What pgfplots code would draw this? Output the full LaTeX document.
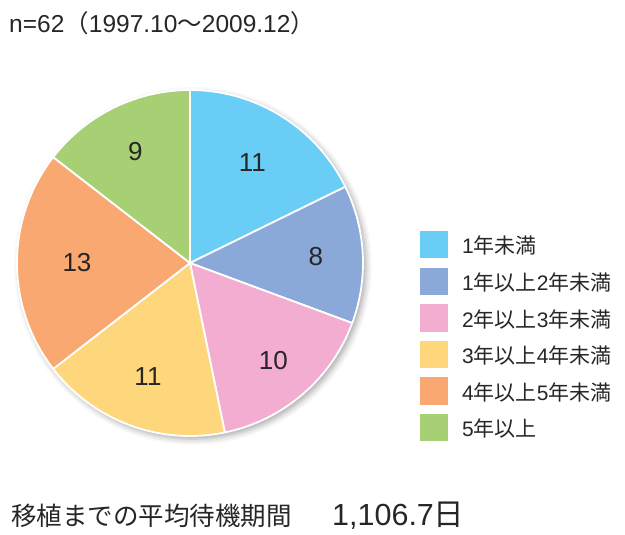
\documentclass[border=0pt]{standalone}
\usepackage{fontspec}
\setmainfont{Liberation Sans}
\newfontfamily\jp{Noto Sans CJK JP}
\usepackage{pgfplots}
\usepackage{pgfplotstable}
\pgfplotsset{compat=1.18}
\usetikzlibrary{shadows.blur}
\definecolor{sA}{HTML}{69CDF5}
\definecolor{sB}{HTML}{8AA8D8}
\definecolor{sC}{HTML}{F3ADD0}
\definecolor{sD}{HTML}{FED67C}
\definecolor{sE}{HTML}{F8A870}
\definecolor{sF}{HTML}{A7D075}
\newcommand\J[1]{{\jp #1}}

% waiting time groups: number of patients, label distance from centre
\pgfplotstableread{
count col lr
11 sA 118
8 sB 126
10 sC 128
11 sD 121
13 sE 113
9 sF 124
}\piedata

\begin{document}
\begin{tikzpicture}
\begin{axis}[width=625pt,height=535pt,scale only axis,hide axis,
  xmin=0,xmax=625,ymin=0,ymax=535,clip=false]
\coordinate (BL) at (axis cs:0,0);
\coordinate (TR) at (axis cs:625,535);
% shadow under the pie
\fill[white,blur shadow={shadow xshift=3pt,shadow yshift=-3pt,shadow blur radius=6pt,shadow opacity=35}]
  (axis cs:190,272) circle[radius=173pt];
\def\cum{0}
\pgfplotsforeachungrouped \k in {0,...,5}{%
  \pgfplotstablegetelem{\k}{count}\of\piedata \let\val\pgfplotsretval
  \pgfplotstablegetelem{\k}{col}\of\piedata \let\cc\pgfplotsretval
  \pgfplotstablegetelem{\k}{lr}\of\piedata \let\lr\pgfplotsretval
  \pgfmathsetmacro\sa{90-\cum/62*360}%
  \pgfmathsetmacro\ea{90-(\cum+\val)/62*360}%
  \pgfmathsetmacro\ma{(\sa+\ea)/2}%
  \pgfmathsetmacro\lx{190+\lr*cos(\ma)}%
  \pgfmathsetmacro\ly{272+\lr*sin(\ma)}%
  \pgfmathsetmacro\qt{304-36.6*\k}%
  \pgfmathsetmacro\qb{\qt-27.5}%
  \edef\temp{%
    \noexpand\fill[\cc,draw=white,line width=1.8pt,line join=round]
      (axis cs:190,272) -- ++(\sa:173pt) arc[start angle=\sa,end angle=\ea,radius=173pt] -- cycle;
    \noexpand\node[font=\noexpand\fontsize{26}{26}\noexpand\selectfont,text=black!85] at (axis cs:\lx,\ly) {\val};
    \noexpand\fill[\cc] (axis cs:420,\qt) rectangle (axis cs:448,\qb);
  }\temp
  \pgfmathsetmacro\cum{\cum+\val}%
}
\tikzset{lg/.style={anchor=base west,inner sep=0pt,text=black!85,font=\fontsize{21}{21}\selectfont}}
\node[lg] at (axis cs:462,281) {1\J{年未満}};
\node[lg] at (axis cs:462,244.4) {1\J{年以上}2\J{年未満}};
\node[lg] at (axis cs:462,207.8) {2\J{年以上}3\J{年未満}};
\node[lg] at (axis cs:462,171.2) {3\J{年以上}4\J{年未満}};
\node[lg] at (axis cs:462,134.6) {4\J{年以上}5\J{年未満}};
\node[lg] at (axis cs:462,98) {5\J{年以上}};
\node[anchor=base west,inner sep=0pt,text=black!85,font=\fontsize{24.5}{25}\selectfont] at (axis cs:9,502)
  {n=62\J{（}1997.10\J{～}2009.12\J{）}};
\node[anchor=base west,inner sep=0pt,text=black!85,font=\fontsize{25.5}{26}\selectfont] at (axis cs:11,9)
  {\J{移植までの平均待機期間}};
\node[anchor=base west,inner sep=0pt,text=black!85,font=\fontsize{30.5}{31}\selectfont] at (axis cs:332,9)
  {1,106.7\J{日}};
\end{axis}
\pgfresetboundingbox
\useasboundingbox (BL) rectangle (TR);
\end{tikzpicture}
\end{document}
